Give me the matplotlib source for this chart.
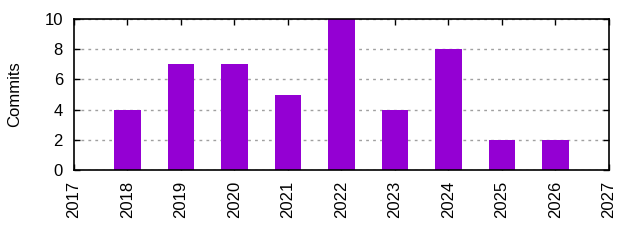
import matplotlib
matplotlib.use("Agg")
import matplotlib.pyplot as plt

years = [2018, 2019, 2020, 2021, 2022, 2023, 2024, 2025, 2026]
commits = [4, 7, 7, 5, 10, 4, 8, 2, 2]
xticks = list(range(2017, 2028))
yticks = [0, 2, 4, 6, 8, 10]

plt.rcParams['font.family'] = ['Liberation Sans', 'DejaVu Sans']
fig = plt.figure(figsize=(6.4, 2.4), dpi=100)
ax = fig.add_axes([74/640, 1-170/240, (609-74)/640, (170-19)/240])
ax.bar(years, commits, width=0.5, color='#9400D3', zorder=2)
ax.set_xlim(2017, 2027)
ax.set_ylim(0, 10)
ax.set_xticks(xticks)
ax.set_xticklabels([str(x) for x in xticks], rotation=90, fontsize=12)
ax.set_yticks(yticks)
ax.set_yticklabels([str(y) for y in yticks], fontsize=12)
ax.tick_params(direction='in', top=True, right=True, length=4, width=1, pad=8)
ax.grid(axis='y', color='#a0a0a0', linestyle=(0, (2, 3)), linewidth=1, zorder=1)
for s in ax.spines.values():
    s.set_linewidth(1.2)
    s.set_zorder(3)
ax.set_ylabel('Commits', fontsize=12, labelpad=16)
fig.savefig('out.png', dpi=100)
